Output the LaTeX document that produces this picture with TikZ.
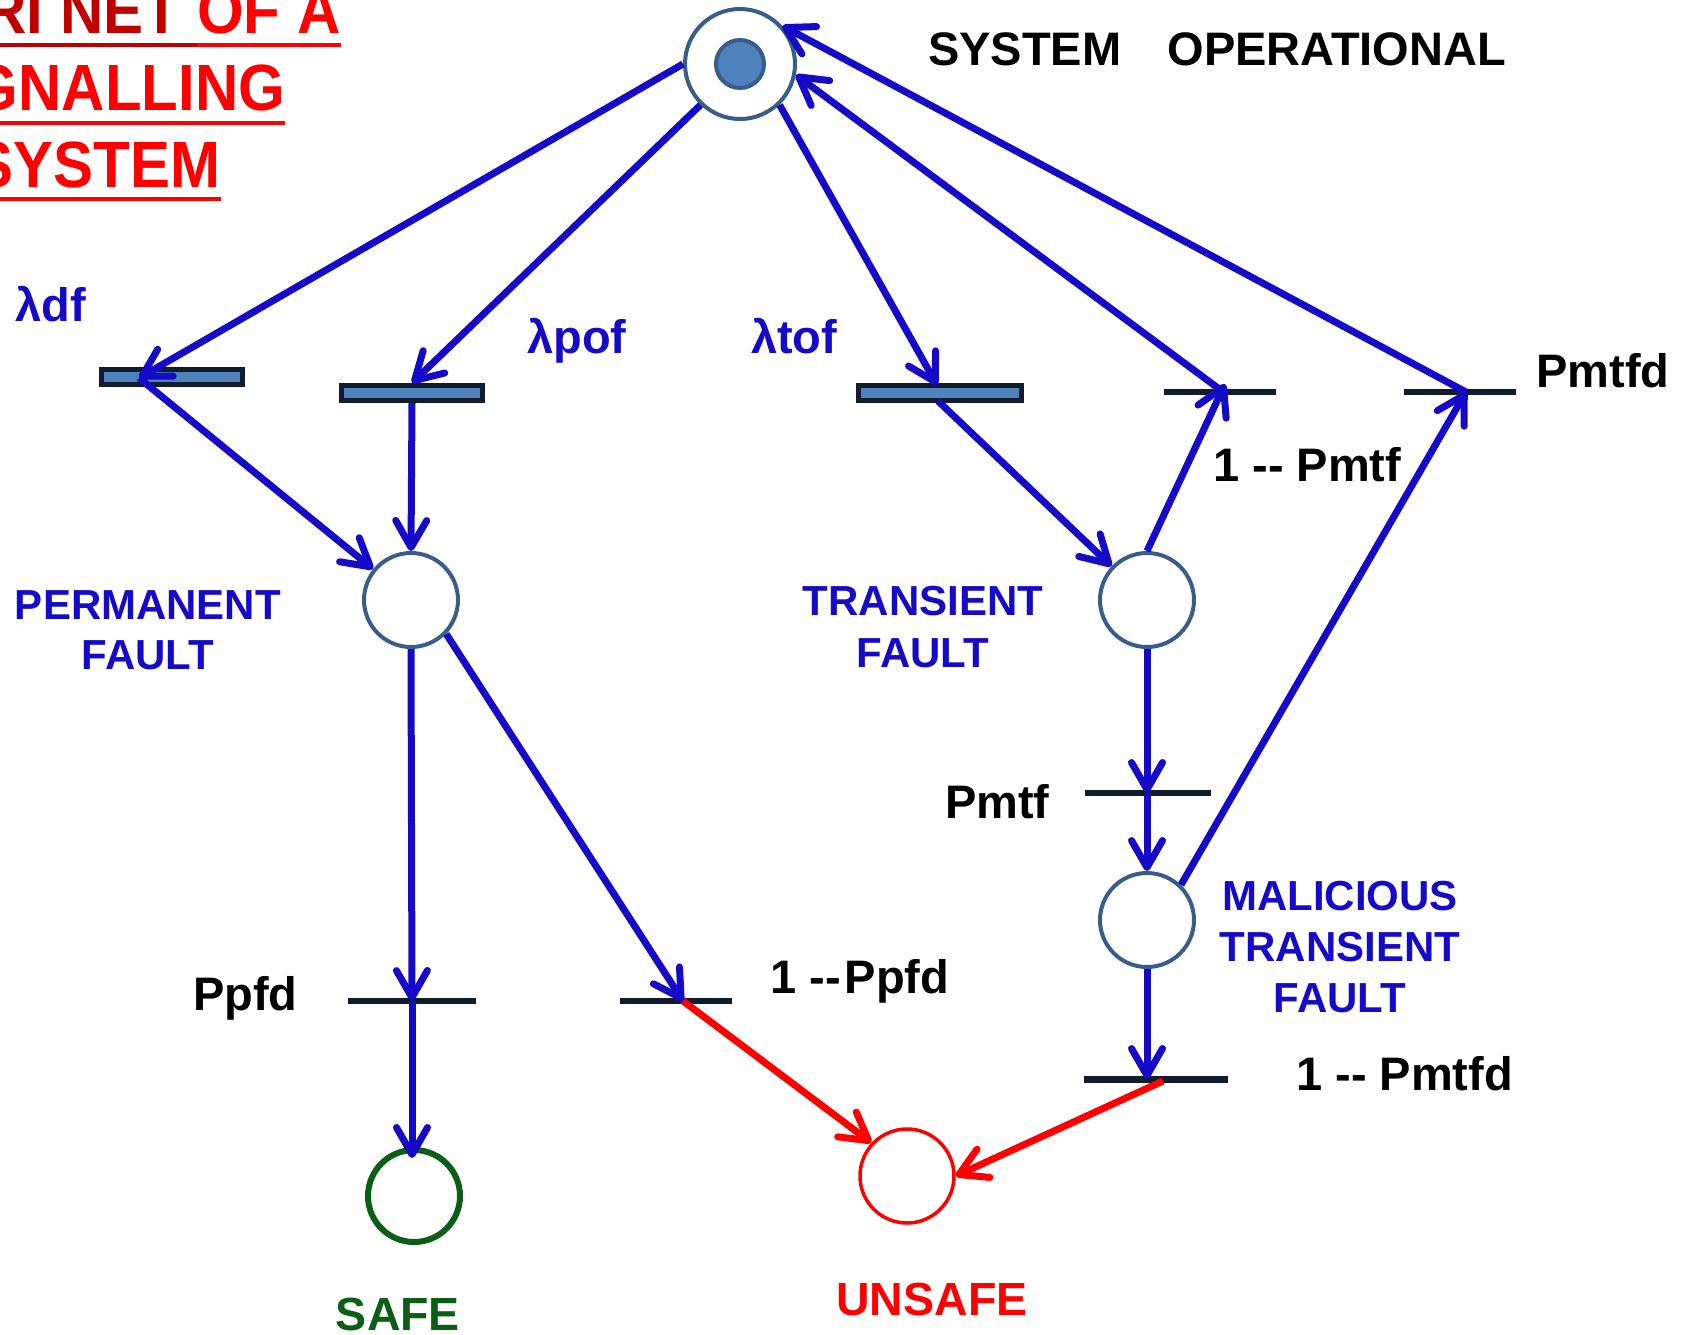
\documentclass[tikz,border=0pt]{standalone}
\usepackage{fontspec}
\usepackage{graphicx}
\setmainfont{Liberation Sans}
\usetikzlibrary{arrows.meta}
\definecolor{ablue}{RGB}{20,10,200}
\definecolor{pline}{RGB}{56,93,138}
\definecolor{bfill}{RGB}{79,129,189}
\definecolor{tdark}{RGB}{17,28,45}
\definecolor{dred}{RGB}{192,0,0}
\definecolor{sgreen}{RGB}{10,95,20}
\newcommand\twohy{-\kern0pt-}
\begin{document}
\begin{tikzpicture}[x=1pt,y=-1pt,
 place/.style={circle,draw=pline,line width=4pt,minimum size=94pt,inner sep=0pt},
 bar/.style={rectangle,draw=tdark,fill=bfill,line width=5pt,minimum height=15pt,inner sep=0pt},
 tline/.style={rectangle,fill=tdark,minimum height=6.5pt,inner sep=0pt,outer sep=0pt},
 arr/.style={line width=7pt,draw=ablue,-{Straight Barb[length=27pt,width=31pt,round]}},
 rarr/.style={line width=7pt,draw=red,-{Straight Barb[length=27pt,width=31pt,round]}},
 lbl/.style={inner sep=0pt,anchor=base west,font=\fontsize{47}{56}\selectfont\bfseries},
 blbl/.style={lbl,text=ablue},
 plbl/.style={inner sep=0pt,anchor=base,text=ablue,font=\fontsize{42}{50}\selectfont\bfseries},
 ttl/.style={inner sep=0pt,font=\fontsize{60}{70}\selectfont\bfseries},
]
\useasboundingbox (0,0) rectangle (1684,1334);
\clip (0,0) rectangle (1684,1334);

% title
\node[ttl,text=dred,anchor=base east] (t1a) at (197,33) {\scalebox{1}[1.09]{PETRI NET\ }};
\node[ttl,text=red,anchor=base west] (t1b) at (197,33) {\scalebox{1}[1.09]{OF A}};
\node[ttl,text=red,anchor=base] (t2) at (100,110) {\scalebox{1}[1.09]{SIGNALLING}};
\node[ttl,text=red,anchor=base] (t3) at (97,187) {\scalebox{1}[1.09]{SYSTEM}};
\coordinate (u1) at (0,45);
\coordinate (u2) at (0,123);
\coordinate (u3) at (0,199);
\draw[dred,line width=4pt] (t1a.west |- u1) -- (t1a.east |- u1);
\draw[red,line width=4pt] (t1b.west |- u1) -- (t1b.east |- u1);
\draw[red,line width=4pt] (t2.west |- u2) -- (t2.east |- u2);
\draw[red,line width=4pt] (t3.west |- u3) -- (t3.east |- u3);

% transitions
\node[bar,minimum width=141pt] (Tdf) at (172,377) {};
\node[bar,minimum width=141pt] (Tpof) at (412,393) {};
\node[bar,minimum width=163pt] (Ttof) at (940,393) {};
\node[tline,minimum width=112pt] (T4) at (1220,392) {};
\node[tline,minimum width=112pt] (T5) at (1460,392) {};
\node[tline,minimum width=126pt] (Tpmtf) at (1148,793) {};
\node[tline,minimum width=144pt,minimum height=7pt] (Tpmtfd) at (1156,1079) {};
\node[tline,minimum width=128pt] (Tppfd) at (412,1001) {};
\node[tline,minimum width=112pt] (Tnppfd) at (676,1001) {};

% places
\node[place,minimum size=110pt] (P0) at (740,64) {};
\node[circle,fill=bfill,draw=pline,line width=4pt,minimum size=48pt,inner sep=0pt] (tok) at (740,64) {};
\node[place] (PF) at (411,600) {};
\node[place] (TF) at (1147,600) {};
\node[place] (MF) at (1147,920) {};
\node[place,draw=sgreen,line width=6pt,minimum size=92pt] (SF) at (414,1196) {};
\node[place,draw=red,line width=3.5pt,minimum size=94pt] (US) at (907,1176) {};

% attach points
\coordinate (dfp) at (139,378);
\coordinate (tofin) at (937,385);
\coordinate (tofout) at (938,401);
\coordinate (t4in) at (1225,384);
\coordinate (t4out) at (1222,391);
\coordinate (t5p) at (1466,392);
\coordinate (pmtfp) at (1147,793);
\coordinate (pmtfdin) at (1147,1079);
\coordinate (pmtfdout) at (1163,1081);
\coordinate (ppfdp) at (412,1001);
\coordinate (nppfdp) at (683,1001);
\coordinate (safein) at (412,1158);

% arcs
\draw[arr] (P0.180) -- (dfp);
\draw[arr] (dfp) -- (PF);
\draw[arr] (P0.-134) -- (Tpof.north);
\draw[arr] (Tpof.south) -- (PF.north);
\draw[arr] (P0.-46) -- (tofin);
\draw[arr] (tofout) -- (TF);
\draw[arr] (TF.north) -- (t4in);
\draw[arr] (t4out) -- (P0.-11);
\draw[arr] (MF.46) -- (t5p);
\draw[arr] (t5p) -- (P0.42);
\draw[arr] (TF.south) -- (pmtfp);
\draw[arr] (pmtfp) -- (MF.north);
\draw[arr] (MF.south) -- (pmtfdin);
\draw[rarr] (pmtfdout) -- (US.east);
\draw[arr] (PF.south) -- (ppfdp);
\draw[arr] (ppfdp) -- (safein);
\draw[arr] (PF.-44) -- (nppfdp);
\draw[rarr] (nppfdp) -- (US.137);

% labels
\node[lbl] (lsys) at (928,65) {SYSTEM\hspace{46pt}OPERATIONAL};
\node[blbl] (ldf) at (15,321) {λdf};
\node[blbl] (lpof) at (527,353) {λpof};
\node[blbl] (ltof) at (751,353) {λtof};
\node[lbl] (lpmtfd) at (1536,387) {Pmtfd};
\node[lbl] (l1pmtf) at (1213,481) {1 \twohy\ Pmtf};
\node[lbl] (lpmtf) at (945,818) {Pmtf};
\node[lbl] (lppfd) at (193,1010) {Ppfd};
\node[lbl] (l1ppfd) at (770,993) {1 \twohy\kern4pt Ppfd};
\node[lbl] (l1pmtfd) at (1296,1090) {1 \twohy\ Pmtfd};

\node[plbl] (pf1) at (148,619) {PERMANENT};
\node[plbl] (pf2) at (148,669) {FAULT};
\node[plbl] (tf1) at (923,615) {TRANSIENT};
\node[plbl] (tf2) at (923,667) {FAULT};
\node[plbl] (mf1) at (1340,910) {MALICIOUS};
\node[plbl] (mf2) at (1340,961) {TRANSIENT};
\node[plbl] (mf3) at (1340,1012) {FAULT};
\node[plbl,text=sgreen,font=\fontsize{46.5}{56}\selectfont\bfseries] (lsafe) at (398,1330) {SAFE};
\node[plbl,text=red,font=\fontsize{46.5}{56}\selectfont\bfseries] (lunsafe) at (932,1315) {UNSAFE};
\end{tikzpicture}
\end{document}
